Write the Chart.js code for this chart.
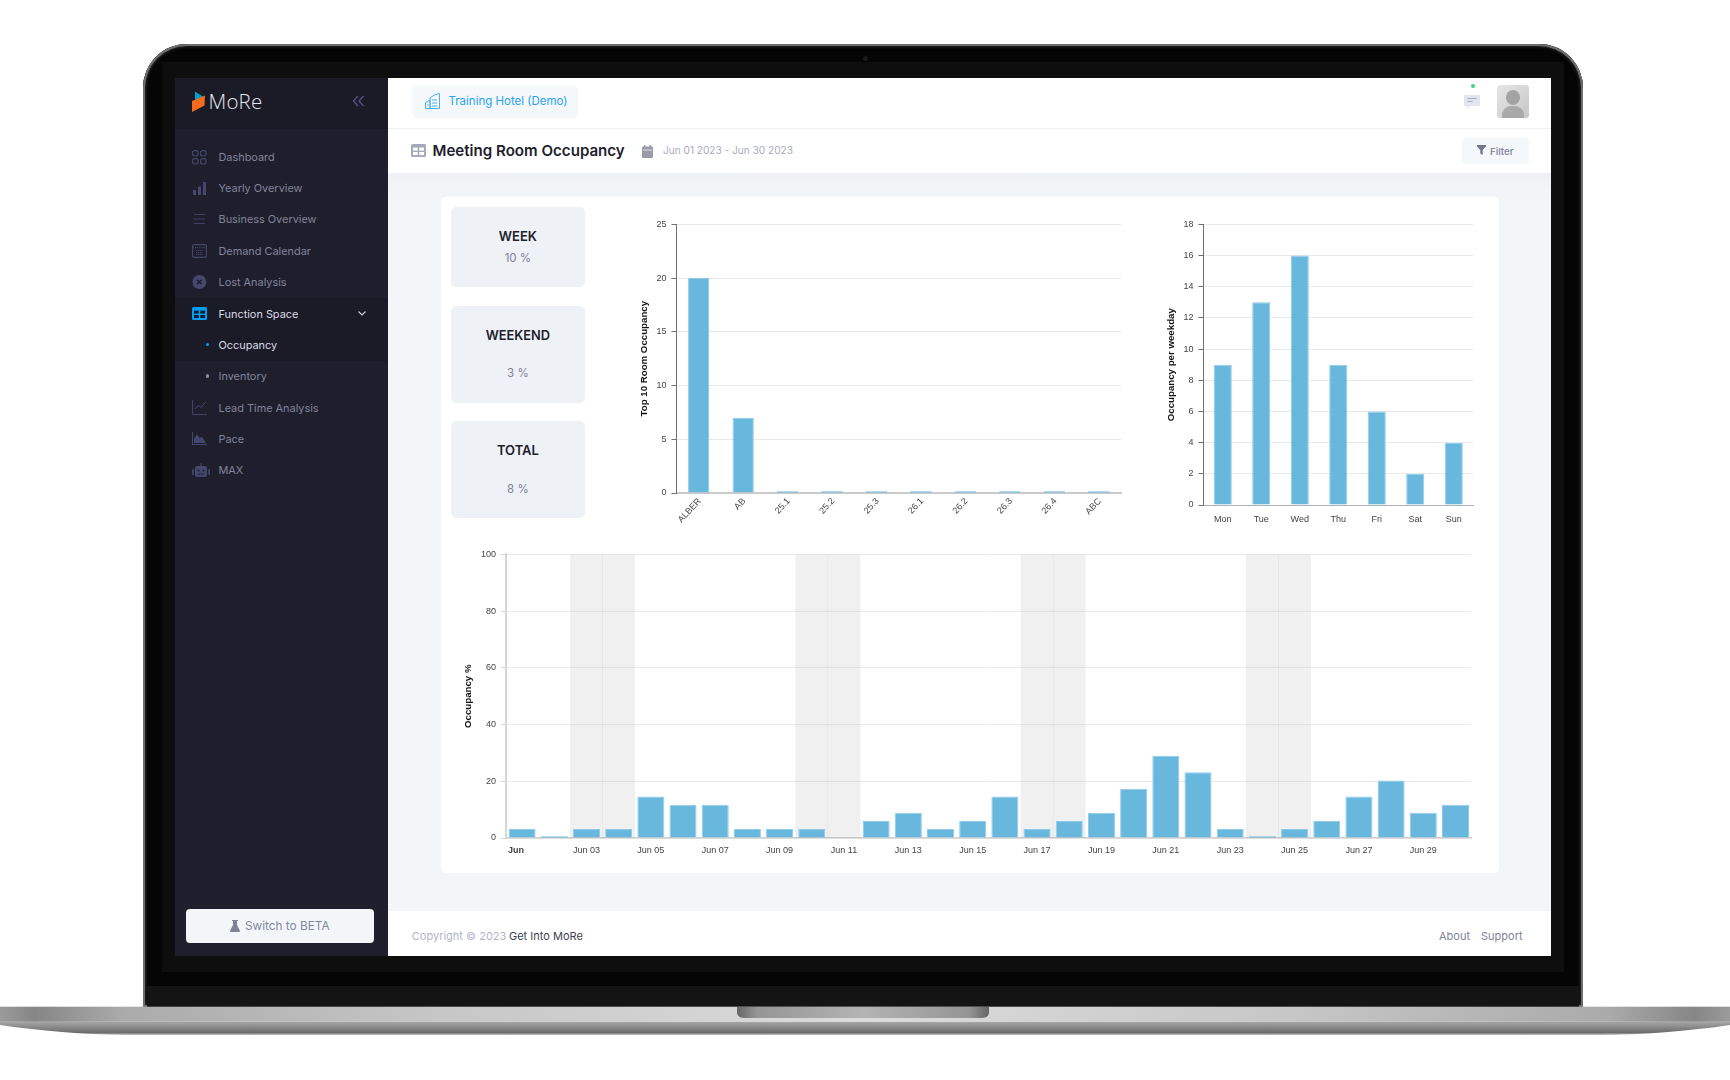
<!DOCTYPE html>
<html><head><meta charset="utf-8"><title>Meeting Room Occupancy</title>
<script src="https://cdn.jsdelivr.net/npm/chart.js@4"></script>
<style>
html,body{margin:0;padding:0;background:#fff;width:1730px;height:1080px;overflow:hidden}
#root{position:absolute;left:0;top:0;width:1730px;height:1080px;font-family:Inter,"Open Sans",sans-serif;filter:blur(.5px)}
.b{position:absolute}
.t{position:absolute;transform:translateY(-50%);white-space:nowrap;line-height:1}
.c{text-align:center}
.nav{font-size:10.9px;color:#82849a;left:218.5px}
canvas{position:absolute;display:block}
svg{position:absolute;overflow:visible}
</style></head><body><div id="root">
<!-- laptop body -->
<div class="b" style="left:143px;top:44px;width:1440px;height:963px;background:#050505;border-radius:44px 44px 0 0;box-shadow:inset 0 0 0 2px #6e6e6e,inset 0 0 3px 3px #2a2a2a"></div>
<div class="b" style="left:162px;top:62px;width:1402px;height:910px;background:#0e0e0e"></div>
<div class="b" style="left:147px;top:986px;width:1432px;height:21px;background:#141414"></div>
<div class="b" style="left:863px;top:56px;width:5px;height:5px;border-radius:50%;background:#1a1a1a"></div>
<svg style="left:0;top:0" width="1730" height="1080">
<defs>
<linearGradient id="s1" x1="0" x2="1" y1="0" y2="0"><stop offset="0" stop-color="#9b9b9b"/><stop offset=".02" stop-color="#868686"/><stop offset=".07" stop-color="#aaa"/><stop offset=".25" stop-color="#c6c6c6"/><stop offset=".5" stop-color="#dcdcdc"/><stop offset=".75" stop-color="#c6c6c6"/><stop offset=".93" stop-color="#aaa"/><stop offset=".98" stop-color="#868686"/><stop offset="1" stop-color="#9b9b9b"/></linearGradient>
<linearGradient id="s2" x1="0" x2="0" y1="0" y2="1"><stop offset="0" stop-color="#a8a8a8"/><stop offset=".82" stop-color="#6c6c6c"/><stop offset="1" stop-color="#c4c4c4"/></linearGradient>
<linearGradient id="s3" x1="0" x2="1" y1="0" y2="0"><stop offset="0" stop-color="#666"/><stop offset=".08" stop-color="#959595"/><stop offset=".5" stop-color="#b4b4b4"/><stop offset=".92" stop-color="#959595"/><stop offset="1" stop-color="#666"/></linearGradient>
</defs>
<path d="M0 1021.5H1730V1025C1690 1031 1640 1035 1600 1035H130C90 1035 40 1031 0 1025Z" fill="url(#s2)"/>
<rect x="0" y="1006.7" width="1730" height="15" fill="url(#s1)"/>
<path d="M737 1007H989V1012C989 1016 986 1018 982 1018H744C740 1018 737 1016 737 1012Z" fill="url(#s3)"/>
</svg>
<!-- screen -->
<div class="b" style="left:175px;top:78px;width:213px;height:878px;background:#1e1e2d"></div>
<div class="b" style="left:175px;top:78px;width:213px;height:50.5px;background:#1b1b28"></div>
<div class="b" style="left:175px;top:298px;width:213px;height:62.5px;background:#1b1b28"></div>
<div class="b" style="left:388px;top:78px;width:1163px;height:878px;background:#fff"></div>
<div class="b" style="left:388px;top:128px;width:1163px;height:1px;background:#eff2f5"></div>
<div class="b" style="left:388px;top:172.500px;width:1163px;height:738.5px;background:linear-gradient(#eef0f4,#f3f6f9 24px)"></div>
<!-- logo -->
<svg style="left:190px;top:90px" width="20" height="24"><path d="M5 1.500L13.500 7 5 10.500Z" fill="#00a3c4"/><path d="M2 11L15 5.500 14.500 15.500 2 22Z" fill="#f26a1b"/></svg>
<div class="t" style="left:208.5px;top:101px;font-size:20.5px;font-weight:300;color:#e6e6ec;font-family:'Open Sans',sans-serif;letter-spacing:.2px">MoRe</div>
<svg style="left:352px;top:95px" width="13" height="12" fill="none" stroke="#4f5180" stroke-width="1.4"><path d="M6 1L1.500 6 6 11M11.500 1L7 6 11.500 11"/></svg>
<!-- nav -->
<svg style="left:192px;top:150px" width="15" height="15" fill="none" stroke="#45476e" stroke-width="1.2"><rect x=".6" y=".6" width="5.4" height="5.4" rx="2"/><rect x="8.6" y=".6" width="5.4" height="5.4" rx="2"/><rect x=".6" y="8.6" width="5.4" height="5.4" rx="2"/><rect x="8.6" y="8.6" width="5.4" height="5.4" rx="2"/></svg>
<div class="t nav" style="top:157px">Dashboard</div>
<svg style="left:192px;top:181px" width="15" height="14" fill="#45476e"><rect x="1" y="9" width="3" height="5"/><rect x="6" y="5.5" width="3" height="8.5"/><rect x="11" y="1" width="3" height="13"/></svg>
<div class="t nav" style="top:188px">Yearly Overview</div>
<svg style="left:192px;top:213px" width="15" height="12" stroke="#3d3f63" stroke-width="1.1"><path d="M2 1.500H13M2 6H13M2 10.500H13"/></svg>
<div class="t nav" style="top:219px">Business Overview</div>
<svg style="left:192px;top:244px" width="15" height="14" fill="none" stroke="#45476e" stroke-width="1.1"><rect x=".6" y=".6" width="13.8" height="12.8" rx="1.5"/><path d="M.6 3.600H14.400M4 6.500H11M4 8.500H11M4 10.500H11" stroke-dasharray="1.2 1"/></svg>
<div class="t nav" style="top:250.7px">Demand Calendar</div>
<svg style="left:192px;top:275px" width="15" height="14"><circle cx="7.3" cy="7" r="7" fill="#45476e"/><path d="M5 4.700L9.600 9.300M9.600 4.700L5 9.300" stroke="#1e1e2d" stroke-width="1.6"/></svg>
<div class="t nav" style="top:282px">Lost Analysis</div>
<svg style="left:192px;top:307px" width="15" height="13"><rect width="15" height="13" rx="1.5" fill="#009ef7"/><rect x="2" y="3.6" width="4.7" height="3" fill="#1b1b28"/><rect x="8.3" y="3.6" width="4.7" height="3" fill="#1b1b28"/><rect x="2" y="8" width="4.7" height="3" fill="#1b1b28"/><rect x="8.3" y="8" width="4.7" height="3" fill="#1b1b28"/></svg>
<div class="t nav" style="top:313.7px;color:#dadae4">Function Space</div>
<svg style="left:358px;top:311px" width="8" height="5" fill="none" stroke="#cfd0da" stroke-width="1.1"><path d="M.5 .5L4 4 7.500 .5"/></svg>
<div class="b" style="left:205.5px;top:343px;width:3.4px;height:3.4px;border-radius:50%;background:#009ef7"></div>
<div class="t nav" style="top:344.7px;color:#dadae4">Occupancy</div>
<div class="b" style="left:205.5px;top:374.3px;width:3.4px;height:3.4px;border-radius:50%;background:#8b8da3"></div>
<div class="t nav" style="top:376px">Inventory</div>
<svg style="left:192px;top:400px" width="15" height="15" fill="none" stroke="#45476e" stroke-width="1"><path d="M.6 0V14.400H15M3 9L6.500 5.500 9 7.500 13.500 2"/></svg>
<div class="t nav" style="top:407.7px">Lead Time Analysis</div>
<svg style="left:192px;top:432px" width="15" height="13" fill="#45476e"><path d="M0 0H1V12H15V13H0ZM2 11V7L5 2 7.500 6 10 5 14 11Z"/></svg>
<div class="t nav" style="top:438.7px">Pace</div>
<svg style="left:192px;top:463px" width="18" height="15" fill="#45476e"><rect x="3" y="3" width="12" height="11" rx="2"/><rect x="0" y="6" width="1.8" height="6" rx=".8"/><rect x="16.2" y="6" width="1.8" height="6" rx=".8"/><rect x="8.4" y="0" width="1.2" height="3"/><circle cx="6.500" cy="7.500" r="1.100" fill="#1e1e2d"/><circle cx="11.500" cy="7.500" r="1.100" fill="#1e1e2d"/><rect x="6" y="10.500" width="6" height="1" fill="#1e1e2d"/></svg>
<div class="t nav" style="top:470.4px">MAX</div>
<div class="b" style="left:185.6px;top:909px;width:188.4px;height:34px;background:#f3f6f9;border-radius:4px"></div>
<svg style="left:230px;top:920px" width="10" height="12" fill="#7e8299"><path d="M2 0H8V1H7V5L10 11C10 11.600 9.600 12 9 12H1C.4 12 0 11.600 0 11L3 5V1H2Z"/></svg>
<div class="t" style="left:245px;top:927px;font-size:11.8px;color:#84869e">Switch to BETA</div>
<!-- header -->
<div class="b" style="left:412px;top:86px;width:166px;height:32px;background:#f5f8fa;border-radius:5px"></div>
<svg style="left:425px;top:93px" width="16" height="16" fill="none" stroke="#4eaef5" stroke-width="1"><path d="M.5 15.500V9.500L5 7V15.500M5 15.500V5L10 1.500 14.500 .5V15.500H.5M7 7H12M7 10H12M7 13H12M2 12H3.500"/></svg>
<div class="t" style="left:448.5px;top:102px;font-size:11.5px;color:#2aa3f5">Training Hotel (Demo)</div>
<svg style="left:411px;top:144px" width="15" height="13"><rect width="15" height="13" rx="1.5" fill="#a7a8bb"/><rect x="2" y="3.6" width="4.7" height="3" fill="#fff"/><rect x="8.3" y="3.6" width="4.7" height="3" fill="#fff"/><rect x="2" y="8" width="4.7" height="3" fill="#fff"/><rect x="8.3" y="8" width="4.7" height="3" fill="#fff"/></svg>
<div class="t" style="left:432.5px;top:151px;font-size:15.1px;font-weight:600;color:#1e1e2d">Meeting Room Occupancy</div>
<svg style="left:642px;top:145px" width="11" height="13" fill="#9a9aa8"><rect y="1.5" width="11" height="11.5" rx="1"/><rect x="2" y="0" width="1.4" height="3"/><rect x="7.6" y="0" width="1.4" height="3"/><path d="M1 5H10" stroke="#fff" stroke-width=".7"/></svg>
<div class="t" style="left:663px;top:150px;font-size:10.1px;color:#a9abbb">Jun 01 2023 - Jun 30 2023</div>
<div class="b" style="left:1462px;top:138px;width:67px;height:26px;background:#f5f8fa;border-radius:4px"></div>
<svg style="left:1477px;top:145px" width="9" height="10" fill="#74768f"><path d="M0 0H9V1.500L5.700 5V10L3.300 8.500V5L0 1.500Z"/></svg>
<div class="t" style="left:1490px;top:151.500px;font-size:9.6px;font-weight:600;color:#8a8ca3">Filter</div>
<div class="b" style="left:1470.5px;top:83.5px;width:4px;height:4px;border-radius:50%;background:#39d27e"></div>
<svg style="left:1464px;top:95px" width="16" height="15"><path d="M1.500 0H14.500C15.300 0 16 .7 16 1.500V9.500C16 10.300 15.300 11 14.500 11H6L3 14V11H1.500C.7 11 0 10.300 0 9.500V1.500C0 .7 .7 0 1.500 0Z" fill="#e3e4ee"/><path d="M3.500 3.500H12.500" stroke="#a5a6c0"/><path d="M3.500 6.500H8.500" stroke="#a5a6c0"/></svg>
<div class="b" style="left:1497px;top:85px;width:32px;height:33px;border-radius:3px;overflow:hidden;background:linear-gradient(135deg,#e6e6e6,#c6c6c6)">
<div class="b" style="left:9px;top:5px;width:14px;height:15px;border-radius:50%;background:#a3a3a3"></div>
<div class="b" style="left:5px;top:21px;width:22px;height:18px;border-radius:9px 9px 0 0;background:#a9a9a9"></div></div>
<!-- card -->
<div class="b" style="left:441px;top:197px;width:1058px;height:676px;background:#fff;border-radius:5px"></div>
<div class="b" style="left:451px;top:207.3px;width:133.8px;height:80.2px;background:#eef1f5;border-radius:5px"></div>
<div class="b" style="left:451px;top:306px;width:133.8px;height:96.5px;background:#eef1f5;border-radius:5px"></div>
<div class="b" style="left:451px;top:421px;width:133.8px;height:97px;background:#eef1f5;border-radius:5px"></div>
<div class="t c" style="left:451px;width:133.8px;top:236px;font-size:13px;font-weight:600;color:#1e1e2d">WEEK</div>
<div class="t c" style="left:451px;width:133.8px;top:258.8px;font-size:11.5px;color:#7e8299">10 %</div>
<div class="t c" style="left:451px;width:133.8px;top:335.5px;font-size:12.8px;font-weight:600;color:#1e1e2d">WEEKEND</div>
<div class="t c" style="left:451px;width:133.8px;top:373.8px;font-size:11.5px;color:#7e8299">3 %</div>
<div class="t c" style="left:451px;width:133.8px;top:449.7px;font-size:13px;font-weight:600;color:#1e1e2d">TOTAL</div>
<div class="t c" style="left:451px;width:133.8px;top:490px;font-size:11.5px;color:#7e8299">8 %</div>
<!-- footer -->
<div class="t" style="left:411.8px;top:936px;font-size:11px;color:#b5b5c8">Copyright © 2023</div>
<div class="t" style="left:509px;top:936px;font-size:11px;color:#3f4254">Get Into MoRe</div>
<div class="t" style="left:1439px;top:936px;font-size:11px;color:#7e8299">About</div>
<div class="t" style="left:1481px;top:936px;font-size:11px;color:#7e8299">Support</div>
<!-- charts -->
<canvas id="roomChart" width="490" height="320" style="left:639px;top:214px"></canvas>
<canvas id="weekdayChart" width="320" height="320" style="left:1166px;top:214px"></canvas>
<canvas id="dailyChart" width="1020" height="326" style="left:463px;top:544px"></canvas>
</div>
<script>
const roomLabels = ['ALBER','AB','25.1','25.2','25.3','26.1','26.2','26.3','26.4','ABC'];
const roomValues = [20,7,0,0,0,0,0,0,0,0];
const roomTicks = [0,5,10,15,20,25];

const weekdayLabels = ['Mon','Tue','Wed','Thu','Fri','Sat','Sun'];
const weekdayValues = [9,13,16,9,6,2,4];
const weekdayTicks = [0,2,4,6,8,10,12,14,16,18];

const dayLabels = ['Jun','Jun 02','Jun 03','Jun 04','Jun 05','Jun 06','Jun 07','Jun 08','Jun 09','Jun 10','Jun 11','Jun 12','Jun 13','Jun 14','Jun 15','Jun 16','Jun 17','Jun 18','Jun 19','Jun 20','Jun 21','Jun 22','Jun 23','Jun 24','Jun 25','Jun 26','Jun 27','Jun 28','Jun 29','Jun 30'];
const dayValues = [3.2,0.5,3.2,3.2,14.6,11.7,11.7,3.2,3.2,3.2,0,6,8.9,3.2,6,14.6,3.2,6,8.9,17.4,29,23.2,3.2,0.5,3.2,6,14.6,20.3,8.9,11.7];
const weekendBand = [null,null,100,100,null,null,null,null,null,100,100,null,null,null,null,null,100,100,null,null,null,null,null,100,100,null,null,null,null,null];
const dayTicks = [0,20,40,60,80,100];

const FONT = '"Liberation Sans", Arial, sans-serif';
const BAR = '#68b8de', BAR_EDGE = '#8fcbe8';
Chart.defaults.font.family = FONT;
Chart.defaults.animation = false;
const edge = c => (c.raw < 1 ? 0 : 1);

function yAxis(title, max, step, width, axisColor, axisWidth, titleSize){
  return {
    min:0, max, afterFit(s){ s.width = width; },
    ticks:{stepSize:step, color:'#444', font:{size:9}, padding:5},
    grid:{color:'#e9e9e9', lineWidth:1, tickColor:axisColor, tickLength:5},
    border:{display:true, color:axisColor, width:axisWidth},
    title:{display:true, text:title, color:'#111', font:{size:titleSize||9.7, weight:'bold'}, padding:0}
  };
}
const base = {responsive:false, plugins:{legend:{display:false}, tooltip:{enabled:false}}};

new Chart(document.getElementById('roomChart'),{
  type:'bar',
  data:{labels:roomLabels, datasets:[{label:'Top 10 Room Occupancy', data:roomValues, backgroundColor:BAR, borderColor:BAR_EDGE, borderWidth:edge, barPercentage:.48, categoryPercentage:1, minBarLength:1.5}]},
  options:{...base,
    layout:{autoPadding:false, padding:{top:10, right:8, left:0, bottom:0}},
    scales:{
      x:{afterFit(s){ s.height = 41; }, grid:{display:false, drawTicks:false}, border:{display:true, color:'#cbcbcb', width:2},
         ticks:{color:'#444', font:{size:9}, padding:3, labelOffset:1, minRotation:47, maxRotation:47, autoSkip:false}},
      y:yAxis('Top 10 Room Occupancy', 25, 5, 37.5, '#6f6f6f', 1)
    }}
});

new Chart(document.getElementById('weekdayChart'),{
  type:'bar',
  data:{labels:weekdayLabels, datasets:[{label:'Occupancy per weekday', data:weekdayValues, backgroundColor:BAR, borderColor:BAR_EDGE, borderWidth:1, barPercentage:.47, categoryPercentage:1}]},
  options:{...base,
    layout:{autoPadding:false, padding:{top:10, right:13, left:0, bottom:0}},
    scales:{
      x:{afterFit(s){ s.height = 29; }, grid:{display:false, drawTicks:false}, border:{display:true, color:'#b0b0b0', width:1},
         ticks:{color:'#444', font:{size:9}, padding:9.5, maxRotation:0, autoSkip:false}},
      y:yAxis('Occupancy per weekday', 18, 2, 37.5, '#6f6f6f', 1)
    }}
});

const shiftFirstLabel = {id:'shiftFirstLabel', beforeDraw(chart){
  const it = chart.scales.x.getLabelItems()[0];
  if(it && !it.moved){ it.options.translation[0] -= 6; it.moved = true; }
}};
new Chart(document.getElementById('dailyChart'),{
  type:'bar',
  plugins:[shiftFirstLabel],
  data:{labels:dayLabels, datasets:[
    {label:'Occupancy %', data:dayValues, backgroundColor:BAR, borderColor:BAR_EDGE, borderWidth:edge, barPercentage:.84, categoryPercentage:1, grouped:false, order:1},
    {label:'Weekend', data:weekendBand, backgroundColor:'rgba(0,0,0,.06)', borderWidth:0, barPercentage:1, categoryPercentage:1, grouped:false, order:2}
  ]},
  options:{...base,
    layout:{autoPadding:false, padding:{top:10, right:11.4, left:0, bottom:0}},
    scales:{
      x:{afterFit(s){ s.height = 32; }, grid:{display:false, drawTicks:false}, border:{display:true, color:'#d0d0d0', width:1.5},
         ticks:{color:'#444', padding:7, maxRotation:0, autoSkip:false,
           font:c=>c.index===0?{size:9,weight:'bold'}:{size:9},
           callback(v,i){ return i%2===0 ? this.getLabelForValue(v) : ''; }}},
      y:(()=>{const a=yAxis('Occupancy %',100,20,43,'#d6d6d6',2); a.grid.color='#ebebeb'; return a;})()
    }}
});
</script></body></html>
